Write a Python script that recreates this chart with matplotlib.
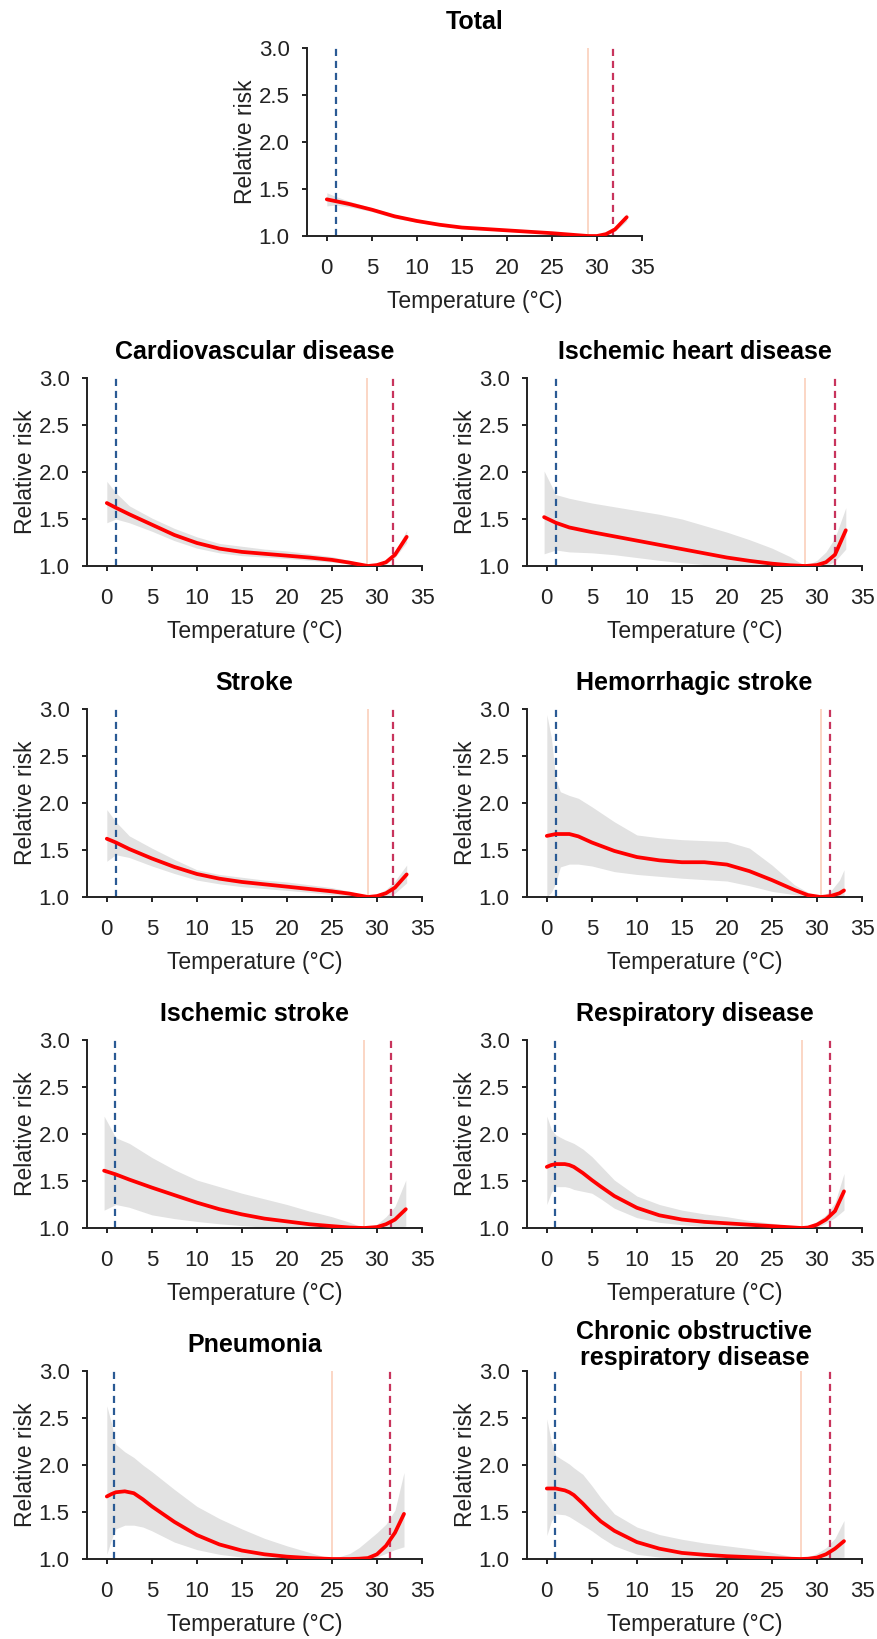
import matplotlib
matplotlib.use('Agg')
from matplotlib import pyplot as plt

plt.rcParams['font.family'] = ['Liberation Sans', 'DejaVu Sans']

# ---- data ----
titles = ['Total', 'Cardiovascular disease', 'Ischemic heart disease', 'Stroke',
          'Hemorrhagic stroke', 'Ischemic stroke', 'Respiratory disease',
          'Pneumonia', 'Chronic obstructive\nrespiratory disease']

# vertical reference lines: 2.5th pct (blue), MMT (orange), 97.5th pct (red)
cold_cut = [1.0, 1.0, 1.0, 1.0, 1.0, 0.9, 0.9, 0.75, 0.9]
mmt = [29.0, 28.9, 28.7, 29.0, 30.4, 28.6, 28.3, 25.0, 28.2]
hot_cut = [31.8, 31.8, 32.0, 31.8, 31.5, 31.6, 31.4, 31.5, 31.4]

x_total = [0, 1, 2.5, 5, 7.5, 10, 12.5, 15, 17.5, 20, 22.5, 25, 27, 29, 30, 31, 32, 33.3]
rr_total = [1.39, 1.37, 1.34, 1.28, 1.21, 1.16, 1.12, 1.09, 1.075, 1.06, 1.045, 1.03, 1.015, 1.0, 1.0, 1.02, 1.07, 1.20]
lo_total = [1.32, 1.33, 1.31, 1.26, 1.19, 1.145, 1.11, 1.08, 1.065, 1.05, 1.037, 1.023, 1.01, 1.0, 0.995, 1.01, 1.05, 1.16]
hi_total = [1.46, 1.42, 1.37, 1.30, 1.23, 1.175, 1.13, 1.10, 1.085, 1.07, 1.053, 1.037, 1.02, 1.0, 1.005, 1.03, 1.09, 1.24]

x_cvd = [0, 1, 2.5, 5, 7.5, 10, 12.5, 15, 17.5, 20, 22.5, 25, 27, 29, 30, 31, 32, 33.3]
rr_cvd = [1.67, 1.62, 1.55, 1.44, 1.33, 1.245, 1.185, 1.15, 1.13, 1.11, 1.09, 1.065, 1.035, 1.0, 1.01, 1.04, 1.12, 1.31]
lo_cvd = [1.46, 1.50, 1.46, 1.37, 1.27, 1.19, 1.14, 1.11, 1.095, 1.08, 1.06, 1.04, 1.02, 1.0, 0.995, 1.02, 1.09, 1.25]
hi_cvd = [1.90, 1.78, 1.64, 1.51, 1.40, 1.31, 1.24, 1.21, 1.18, 1.16, 1.13, 1.10, 1.06, 1.0, 1.025, 1.06, 1.15, 1.38]

x_ihd = [-0.3, 1, 2.5, 5, 7.5, 10, 12.5, 15, 17.5, 20, 22.5, 25, 27, 28.7, 30, 31, 32, 33.2]
rr_ihd = [1.52, 1.46, 1.41, 1.36, 1.315, 1.27, 1.225, 1.18, 1.135, 1.09, 1.055, 1.025, 1.008, 1.0, 1.01, 1.04, 1.12, 1.38]
lo_ihd = [1.13, 1.17, 1.15, 1.14, 1.12, 1.09, 1.06, 1.035, 1.015, 1.0, 1.0, 1.0, 1.0, 1.0, 0.99, 1.0, 1.05, 1.18]
hi_ihd = [2.01, 1.76, 1.72, 1.67, 1.63, 1.59, 1.55, 1.50, 1.43, 1.36, 1.28, 1.19, 1.10, 1.0, 1.06, 1.15, 1.30, 1.62]

x_stroke = [0, 1, 2.5, 5, 7.5, 10, 12.5, 15, 17.5, 20, 22.5, 25, 27, 29, 30, 31, 32, 33.3]
rr_stroke = [1.62, 1.58, 1.51, 1.41, 1.32, 1.245, 1.195, 1.16, 1.135, 1.11, 1.085, 1.06, 1.035, 1.0, 1.01, 1.04, 1.10, 1.24]
lo_stroke = [1.38, 1.45, 1.42, 1.33, 1.25, 1.18, 1.14, 1.11, 1.09, 1.07, 1.05, 1.025, 1.01, 1.0, 0.99, 1.0, 1.04, 1.15]
hi_stroke = [1.93, 1.80, 1.65, 1.52, 1.40, 1.29, 1.24, 1.21, 1.18, 1.16, 1.13, 1.10, 1.06, 1.0, 1.03, 1.08, 1.17, 1.34]

x_hem = [0, 0.5, 1, 1.5, 2.5, 3.5, 5, 7.5, 10, 12.5, 15, 17.5, 20, 22.5, 25, 27.5, 29, 30.4, 31.5, 32.5, 33]
rr_hem = [1.65, 1.66, 1.67, 1.67, 1.67, 1.645, 1.58, 1.49, 1.425, 1.39, 1.37, 1.37, 1.345, 1.275, 1.18, 1.075, 1.02, 1.0, 1.01, 1.04, 1.07]
lo_hem = [1.0, 1.05, 1.15, 1.32, 1.35, 1.35, 1.33, 1.27, 1.24, 1.22, 1.20, 1.185, 1.17, 1.12, 1.06, 1.025, 1.005, 1.0, 0.99, 0.995, 1.0]
hi_hem = [2.94, 2.70, 2.25, 2.12, 2.08, 2.05, 1.96, 1.80, 1.66, 1.63, 1.61, 1.60, 1.59, 1.52, 1.34, 1.13, 1.05, 1.0, 1.06, 1.18, 1.29]

x_isch = [-0.3, 1, 2.5, 5, 7.5, 10, 12.5, 15, 17.5, 20, 22.5, 25, 27, 28.6, 30, 31, 32, 33.2]
rr_isch = [1.61, 1.57, 1.515, 1.43, 1.35, 1.27, 1.20, 1.145, 1.10, 1.07, 1.04, 1.02, 1.005, 1.0, 1.01, 1.04, 1.09, 1.20]
lo_isch = [1.19, 1.25, 1.22, 1.14, 1.10, 1.07, 1.045, 1.025, 1.01, 1.0, 1.0, 1.0, 1.0, 1.0, 0.99, 0.99, 1.0, 1.02]
hi_isch = [2.19, 1.96, 1.90, 1.75, 1.62, 1.51, 1.44, 1.37, 1.31, 1.25, 1.18, 1.12, 1.06, 1.0, 1.04, 1.12, 1.23, 1.51]

x_resp = [0, 0.5, 1, 2, 2.5, 3, 4, 5, 6, 7.5, 10, 12.5, 15, 17.5, 20, 22.5, 25, 27, 28.3, 29, 30, 31, 32, 33]
rr_resp = [1.65, 1.67, 1.68, 1.68, 1.67, 1.65, 1.585, 1.51, 1.44, 1.34, 1.215, 1.135, 1.09, 1.065, 1.05, 1.035, 1.02, 1.008, 1.0, 1.005, 1.035, 1.09, 1.18, 1.39]
lo_resp = [1.25, 1.38, 1.44, 1.44, 1.43, 1.41, 1.39, 1.37, 1.31, 1.21, 1.11, 1.06, 1.035, 1.015, 1.0, 1.0, 1.0, 1.0, 1.0, 1.0, 1.01, 1.05, 1.11, 1.19]
hi_resp = [2.19, 2.05, 1.99, 1.94, 1.92, 1.90, 1.84, 1.76, 1.66, 1.51, 1.34, 1.25, 1.19, 1.15, 1.12, 1.08, 1.05, 1.02, 1.0, 1.02, 1.07, 1.14, 1.27, 1.58]

x_pneu = [0, 0.5, 1, 2, 3, 4, 5, 7.5, 10, 12.5, 15, 17.5, 20, 22.5, 25, 27, 28, 29, 30, 31, 32, 33]
rr_pneu = [1.665, 1.69, 1.71, 1.72, 1.70, 1.635, 1.56, 1.395, 1.255, 1.155, 1.09, 1.05, 1.025, 1.01, 1.0, 1.0, 1.003, 1.01, 1.05, 1.14, 1.28, 1.48]
lo_pneu = [1.05, 1.20, 1.32, 1.36, 1.36, 1.34, 1.30, 1.18, 1.10, 1.05, 1.02, 1.005, 1.0, 1.0, 1.0, 0.99, 0.99, 1.0, 1.02, 1.06, 1.10, 1.13]
hi_pneu = [2.63, 2.45, 2.22, 2.14, 2.08, 2.00, 1.93, 1.74, 1.56, 1.43, 1.32, 1.22, 1.14, 1.07, 1.0, 1.06, 1.12, 1.20, 1.28, 1.37, 1.52, 1.92]

x_copd = [0, 0.5, 1, 2, 2.5, 3, 4, 5, 6, 7.5, 10, 12.5, 15, 17.5, 20, 22.5, 25, 27, 28.2, 29, 30, 31, 32, 33]
rr_copd = [1.75, 1.75, 1.75, 1.73, 1.71, 1.68, 1.59, 1.49, 1.40, 1.30, 1.18, 1.11, 1.065, 1.045, 1.03, 1.02, 1.01, 1.003, 1.0, 1.003, 1.015, 1.05, 1.11, 1.19]
lo_copd = [1.25, 1.40, 1.48, 1.47, 1.45, 1.42, 1.36, 1.30, 1.23, 1.14, 1.05, 1.02, 1.01, 1.0, 1.0, 1.0, 1.0, 1.0, 1.0, 0.99, 0.99, 1.0, 1.01, 1.02]
hi_copd = [2.49, 2.25, 2.10, 2.04, 2.01, 1.97, 1.90, 1.78, 1.65, 1.48, 1.34, 1.26, 1.21, 1.17, 1.14, 1.11, 1.07, 1.03, 1.0, 1.02, 1.06, 1.12, 1.22, 1.41]

curves = [
    (x_total, rr_total, lo_total, hi_total),
    (x_cvd, rr_cvd, lo_cvd, hi_cvd),
    (x_ihd, rr_ihd, lo_ihd, hi_ihd),
    (x_stroke, rr_stroke, lo_stroke, hi_stroke),
    (x_hem, rr_hem, lo_hem, hi_hem),
    (x_isch, rr_isch, lo_isch, hi_isch),
    (x_resp, rr_resp, lo_resp, hi_resp),
    (x_pneu, rr_pneu, lo_pneu, hi_pneu),
    (x_copd, rr_copd, lo_copd, hi_copd),
]

W, H = 877, 1639
fig = plt.figure(figsize=(W / 100, H / 100), dpi=100)

# axes boxes in pixels: (left, top)
row_tops = [378, 709, 1040, 1371]
boxes = [(307, 48)]
for top in row_tops:
    boxes.append((87, top))
    boxes.append((527, top))
aw, ah = 335, 188

for i, (left, top) in enumerate(boxes):
    ax = fig.add_axes([left / W, 1 - (top + ah) / H, aw / W, ah / H])
    x, rr, lo, hi = curves[i]
    ax.fill_between(x, lo, hi, color='#e2e2e2', lw=0, zorder=1)
    ax.axvline(cold_cut[i], color='#2a5a94', lw=1.6, dashes=(3.2, 2.2), zorder=2)
    ax.axvline(mmt[i], color='#fbd3c0', lw=1.3, zorder=2)
    ax.axvline(hot_cut[i], color='#c8345c', lw=1.6, dashes=(3.2, 2.2), zorder=2)
    ax.plot(x, rr, color='#ff0000', lw=2.7, zorder=3,
            solid_capstyle='round', solid_joinstyle='round')

    ax.set_xlim(-2.2, 35)
    ax.set_ylim(1.0, 3.0)
    ax.set_xticks(range(0, 36, 5))
    ax.set_yticks([1.0, 1.5, 2.0, 2.5, 3.0])
    ax.set_yticklabels(['1.0', '1.5', '2.0', '2.5', '3.0'])
    for s in ['top', 'right']:
        ax.spines[s].set_visible(False)
    for s in ['left', 'bottom']:
        ax.spines[s].set_linewidth(1.4)
        ax.spines[s].set_color('#222222')
    ax.tick_params(axis='x', length=3.5, width=1.4, pad=12, labelsize=16, colors='#222222')
    ax.tick_params(axis='y', length=3.5, width=1.4, pad=9, labelsize=16, colors='#222222')
    ax.set_xlabel('Temperature (°C)', fontsize=16.5, labelpad=8, color='#222222')
    ax.set_ylabel('Relative risk', fontsize=16.5, labelpad=1, color='#222222')
    pad = 4 if '\n' in titles[i] else 13.5
    ax.set_title(titles[i], fontsize=18, fontweight='bold', pad=pad, linespacing=1.15)

fig.savefig('out.png', dpi=100)
